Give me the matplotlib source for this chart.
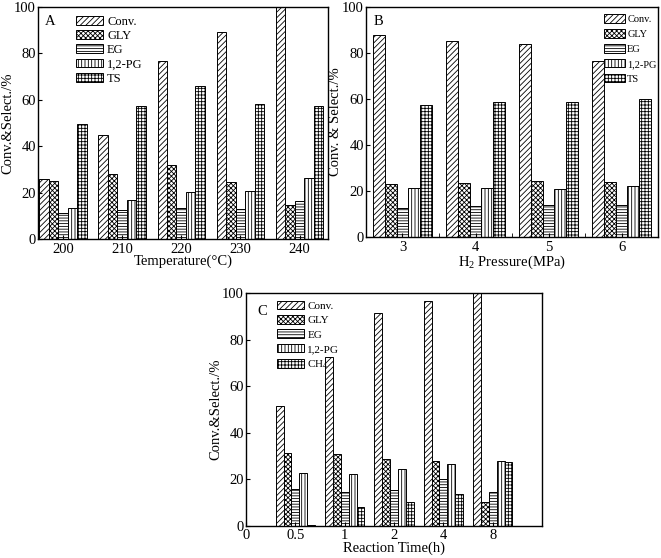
import numpy as np
import matplotlib
matplotlib.use("Agg")
import matplotlib.pyplot as plt
from matplotlib.ticker import FixedLocator

plt.rcParams['font.family'] = ['Liberation Serif', 'DejaVu Serif']
plt.rcParams['mathtext.fontset'] = 'custom'
plt.rcParams['mathtext.rm'] = 'Liberation Serif'
plt.rcParams['mathtext.it'] = 'Liberation Serif:italic'
plt.rcParams['hatch.linewidth'] = 0.6

# Panel A: temperature
temp_labels = ["200", "210", "220", "230", "240"]
a_conv = [26, 45, 76.5, 89, 100]
a_gly = [25, 28, 32, 24.5, 14.5]
a_eg = [11, 12.5, 13.5, 13, 16.5]
a_pg = [13.5, 17, 20.3, 20.7, 26.5]
a_ts = [49.5, 57.5, 66, 58, 57.5]

# Panel B: H2 pressure
pres_labels = ["3", "4", "5", "6"]
b_conv = [88, 85, 83.7, 76.7]
b_gly = [23, 23.5, 24.3, 23.7]
b_eg = [12.8, 13.3, 13.7, 14]
b_pg = [21.3, 21.5, 21, 22.2]
b_ts = [57.2, 58.5, 58.8, 60]

# Panel C: reaction time
time_labels = ["0.5", "1", "2", "4", "8"]
c_conv = [51.5, 72.5, 91.5, 96.7, 100]
c_gly = [31.5, 31, 28.7, 27.8, 10.3]
c_eg = [16, 14.5, 15.3, 20.3, 14.7]
c_pg = [22.7, 22.5, 24.3, 26.7, 28]
c_ch4 = [0.5, 8, 10.5, 13.8, 27.3]

hatches = ['//////', 'xxxxxxx', '------', '|||||', '+++++']
w = 0.16


def bars(ax, x, series, names, legend_kw):
    for i, (vals, nm) in enumerate(zip(series, names)):
        ax.bar(x + (i - 2) * w, vals, w, color='white', edgecolor='black',
               hatch=hatches[i], linewidth=0.7, label=nm)
    ax.set_ylim(0, 100)
    ax.set_yticks([0, 20, 40, 60, 80, 100])
    ax.tick_params(direction='in', labelsize=10.5, length=3, width=0.8, pad=1.5)
    ax.tick_params(axis='x', pad=3)
    for s in ax.spines.values():
        s.set_linewidth(1.0)
    kw = dict(frameon=False, fontsize=8, handlelength=2.4, handleheight=0.8,
              labelspacing=0.38, handletextpad=0.3, borderaxespad=0.3)
    kw.update(legend_kw)
    ax.legend(**kw)


fig = plt.figure(figsize=(6.61, 5.58), dpi=100)

axA = fig.add_axes([0.0575, 0.5717, 0.4387, 0.4158])
xa = np.arange(len(temp_labels))
bars(axA, xa, [a_conv, a_gly, a_eg, a_pg, a_ts],
     ["Conv.", "GLY", "EG", "1,2-PG", "TS"],
     dict(loc='upper left', bbox_to_anchor=(0.1, 1.0), fontsize=9,
          handlelength=2.2, handleheight=0.7, labelspacing=0.18))
axA.set_xlim(-0.42, 4.48)
axA.set_xticks(xa)
axA.set_xticklabels(temp_labels)
axA.set_xlabel("Temperature(°C)", fontsize=10.5, labelpad=-1)
axA.set_ylabel("Conv.&Select./%", fontsize=10.5, labelpad=0)
axA.text(0.025, 0.965, "A", transform=axA.transAxes, fontsize=10.5, va='top')

axB = fig.add_axes([0.5537, 0.5753, 0.4418, 0.4122])
xb = np.arange(len(pres_labels))
bars(axB, xb, [b_conv, b_gly, b_eg, b_pg, b_ts],
     ["Conv.", "GLY", "EG", "1,2-PG", "TS"],
     dict(loc='upper right', bbox_to_anchor=(1.02, 1.0), fontsize=7.5,
          handlelength=2.0, handleheight=0.85, labelspacing=0.5,
          handletextpad=0.25))
axB.set_xlim(-0.5, 3.5)
axB.set_xticks(xb)
axB.set_xticklabels(pres_labels)
axB.xaxis.set_minor_locator(FixedLocator([0.5, 1.5, 2.5]))
axB.tick_params(axis='x', which='minor', direction='in', length=3)
axB.set_xlabel("H$_2$ Pressure(MPa)", fontsize=10.5, labelpad=0)
axB.set_ylabel("Conv. & Select./%", fontsize=10.5, labelpad=0)
axB.text(0.025, 0.965, "B", transform=axB.transAxes, fontsize=10.5, va='top')

axC = fig.add_axes([0.3722, 0.0573, 0.4478, 0.4176])
xc = np.arange(1, len(time_labels) + 1)
bars(axC, xc, [c_conv, c_gly, c_eg, c_pg, c_ch4],
     ["Conv.", "GLY", "EG", "1,2-PG", "CH$_4$"],
     dict(loc='upper left', bbox_to_anchor=(0.08, 1.0)))
axC.set_xlim(0, 6)
axC.set_xticks(np.arange(0, 6))
axC.set_xticklabels(["0"] + time_labels)
axC.tick_params(axis='x', pad=2)
axC.set_xlabel("Reaction Time(h)", fontsize=10.5, labelpad=0)
axC.set_ylabel("Conv.&Select./%", fontsize=10.5, labelpad=0)
axC.text(0.04, 0.95, "C", transform=axC.transAxes, fontsize=10.5, va='top')

fig.savefig("out.png", dpi=100)
